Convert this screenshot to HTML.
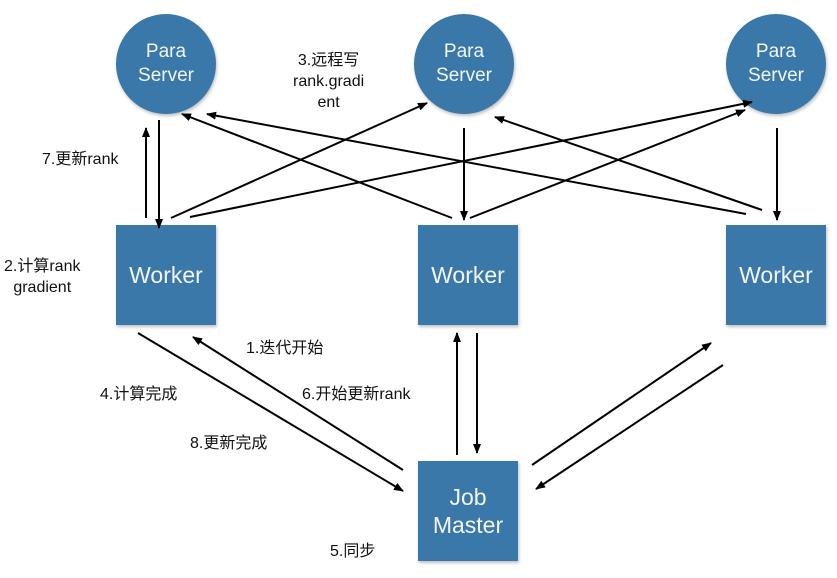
<!DOCTYPE html>
<html><head><meta charset="utf-8"><style>
body{margin:0;background:#fff;width:837px;height:578px;overflow:hidden;position:relative;font-family:"Liberation Sans","Noto Sans CJK SC",sans-serif}
.c{position:absolute;width:100px;height:100px;border-radius:50%;background:#3a78aa;color:#f2f6fa;font-size:19px;line-height:24px;text-align:center;display:flex;align-items:center;justify-content:center;box-shadow:1px 2px 3px rgba(0,0,0,.25)}
.b{position:absolute;width:100px;height:100px;background:#3a78aa;color:#f2f6fa;font-size:23px;line-height:28px;text-align:center;display:flex;align-items:center;justify-content:center;box-shadow:1px 2px 3px rgba(0,0,0,.25)}
.t{position:absolute;font-size:16px;color:#111;line-height:21px;white-space:nowrap}
</style></head><body>
<div class="c" style="left:116px;top:14px">Para<br>Server</div>
<div class="c" style="left:414px;top:14px">Para<br>Server</div>
<div class="c" style="left:726px;top:14px">Para<br>Server</div>
<div class="b" style="left:116px;top:225px">Worker</div>
<div class="b" style="left:418px;top:225px">Worker</div>
<div class="b" style="left:726px;top:225px">Worker</div>
<div class="b" style="left:418px;top:461px">Job<br>Master</div>
<svg width="837" height="578" style="position:absolute;left:0;top:0">
<defs><marker id="a" markerWidth="10" markerHeight="8" refX="9" refY="4" orient="auto" markerUnits="userSpaceOnUse"><path d="M0,0L10,4L0,8z" fill="#000"/></marker></defs>
<g stroke="#000" stroke-width="2" fill="none" marker-end="url(#a)">
<line x1="146" y1="218" x2="146" y2="128"/>
<line x1="159" y1="120" x2="159" y2="228"/>
<line x1="464" y1="128" x2="464" y2="220"/>
<line x1="777" y1="128" x2="777" y2="220"/>
<line x1="171" y1="218" x2="427" y2="103"/>
<line x1="190" y1="217" x2="752" y2="102"/>
<line x1="470" y1="218" x2="745" y2="110"/>
<line x1="452" y1="218" x2="182" y2="114"/>
<line x1="746" y1="214" x2="207" y2="114"/>
<line x1="762" y1="210" x2="495" y2="117"/>
<line x1="138" y1="333" x2="403" y2="491"/>
<line x1="403" y1="470" x2="193" y2="337"/>
<line x1="457" y1="455" x2="457" y2="333"/>
<line x1="477" y1="333" x2="477" y2="453"/>
<line x1="532" y1="465" x2="711" y2="343"/>
<line x1="723" y1="365" x2="536" y2="489"/>
</g></svg>
<div class="t" style="left:293px;top:50px;text-align:center">3.远程写<br>rank.gradi<br>ent</div>
<div class="t" style="left:42px;top:149px">7.更新rank</div>
<div class="t" style="left:4px;top:256px;text-align:center">2.计算rank<br>gradient</div>
<div class="t" style="left:246px;top:338px">1.迭代开始</div>
<div class="t" style="left:100px;top:384px">4.计算完成</div>
<div class="t" style="left:302px;top:384px">6.开始更新rank</div>
<div class="t" style="left:190px;top:433px">8.更新完成</div>
<div class="t" style="left:330px;top:541px">5.同步</div>
</body></html>
